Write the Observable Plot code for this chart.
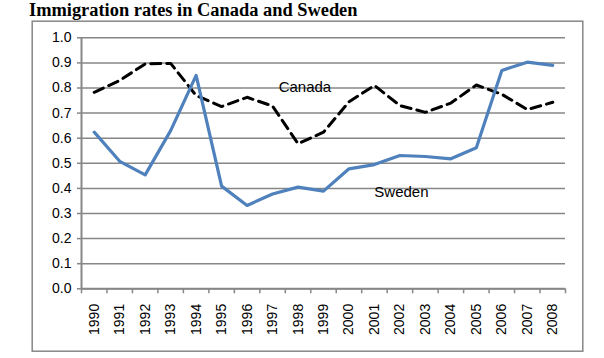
<!DOCTYPE html>
<html>
<head>
<meta charset="utf-8">
<script src="https://cdn.jsdelivr.net/npm/d3@7"></script>
<script src="https://cdn.jsdelivr.net/npm/@observablehq/plot@0.6"></script>
<style>
  html, body { margin: 0; padding: 0; background: #fff; }
  #wrap { position: relative; width: 604px; height: 358px; overflow: hidden; background: #fff; }
  #title { position: absolute; left: 29px; top: 1px; font-family: "Liberation Serif", "Times New Roman", serif; font-weight: bold; font-size: 18.4px; line-height: 18px; color: #000; white-space: nowrap; }
  #chart { position: absolute; left: 0; top: 20px; }
</style>
</head>
<body>
<div id="wrap">
  <div id="title">Immigration rates in Canada and Sweden</div>
  <div id="chart"></div>
</div>
<script>
const years = [1990,1991,1992,1993,1994,1995,1996,1997,1998,1999,2000,2001,2002,2003,2004,2005,2006,2007,2008];
const canada = [0.783,0.830,0.896,0.898,0.770,0.726,0.763,0.728,0.578,0.624,0.745,0.810,0.730,0.703,0.740,0.812,0.775,0.714,0.743];
const sweden = [0.624,0.508,0.454,0.630,0.850,0.409,0.332,0.378,0.405,0.389,0.478,0.495,0.531,0.527,0.518,0.562,0.870,0.903,0.890];
const yTicks = [0,0.1,0.2,0.3,0.4,0.5,0.6,0.7,0.8,0.9,1.0];
const seriesLabels = [
  {name: "Canada", year: 1998.27, value: 0.803},
  {name: "Sweden", year: 2002.06, value: 0.385}
];

const rows = (vals, name) => years.map((y, i) => ({year: y, value: vals[i], series: name}));
const canadaRows = rows(canada, "Canada");
const swedenRows = rows(sweden, "Sweden");
const xMin = years[0] - 0.5, xMax = years[years.length - 1] + 0.5;
const boundaries = [...years.map(y => y - 0.5), xMax];
const gray = "#878787";

const chart = Plot.plot({
  width: 604,
  height: 338,
  marginLeft: 81,
  marginRight: 39,
  marginTop: 17.3,
  marginBottom: 69.7,
  style: {fontFamily: "'Liberation Sans', Arial, sans-serif", fontSize: "14px", background: "white", color: "#000", overflow: "visible"},
  x: {type: "linear", domain: [xMin, xMax]},
  y: {domain: [0, 1]},
  marks: [
    Plot.frame({stroke: gray, strokeWidth: 1.5, insetLeft: -49.3, insetTop: -16.6, insetRight: -17.3, insetBottom: -62.4}),
    Plot.gridY(yTicks, {stroke: gray, strokeOpacity: 1, strokeWidth: 1.5}),
    Plot.axisY({ticks: yTicks, tickFormat: d3.format(".1f"), tickSize: 4, tickPadding: 6, stroke: gray, strokeWidth: 1.5, label: null, fontSize: 14}),
    Plot.axisX({ticks: boundaries, tickFormat: () => "", tickSize: 5, stroke: gray, strokeWidth: 1.5, label: null}),
    Plot.axisX({ticks: years, tickFormat: d => String(d), tickSize: 0, tickPadding: 15, tickRotate: -90, label: null, fontSize: 14}),
    Plot.ruleX([xMin], {stroke: gray, strokeWidth: 2}),
    Plot.ruleY([0], {stroke: gray, strokeWidth: 2}),
    Plot.line(canadaRows, {x: "year", y: "value", stroke: "#000", strokeWidth: 3, strokeDasharray: "10,6"}),
    Plot.line(swedenRows, {x: "year", y: "value", stroke: "#4f81bd", strokeWidth: 3.2}),
    Plot.text(seriesLabels, {x: "year", y: "value", text: "name", fontSize: 15, fill: "#000", fontFamily: "'Liberation Sans', Arial, sans-serif"})
  ]
});
document.getElementById("chart").appendChild(chart);
</script>
</body>
</html>
